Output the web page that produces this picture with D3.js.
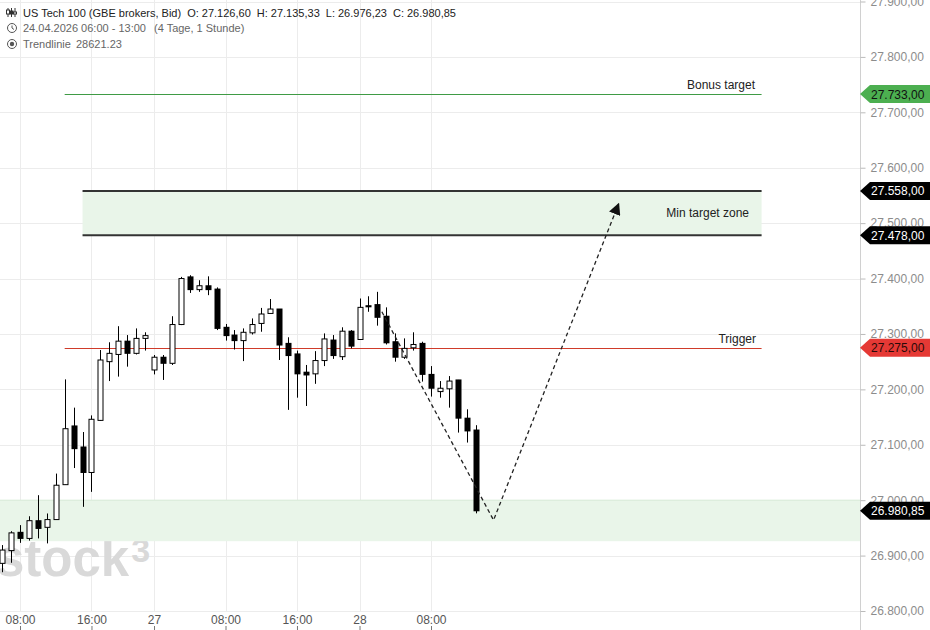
<!DOCTYPE html>
<head>
  <meta charset="utf-8">
  <script src="https://d3js.org/d3.v7.min.js"></script>
  <style>
  body,html {background:white; margin:0; font-family:"Liberation Sans", Arial, sans-serif;}
  svg {display:block;}
  .grid line {stroke:#ececec; stroke-width:1;}
  .yaxis text {fill:#8c8c8c; font-size:12px;}
  .xaxis text {fill:#555; font-size:12px;}
  .hdr {font-size:11px;}
</style>
</head>

<body>
<svg id="chart"></svg>

<script>

  // hourly candles (index 0 = 06:00 first day)
  const open  = [26886,26909,26942,26931,26963,26951,26965,27028,27134,27096,27050,27144,27250,27263,27287,27265,27292,27235,27258,27247,
                 27317,27403,27380,27387,27381,27312,27298,27288,27302,27319,27337,27345,27283,27264,27231,27228,27252,27289,27259,27305,
                 27290,27351,27353,27332,27286,27258,27275,27283,27227,27196,27201,27217,27148,27126.6];
  const high  = [26919,26944,26955,26971,27009,26976,27048,27218,27167,27123,27153,27271,27285,27314,27298,27310,27303,27262,27262,27332,
                 27403,27406,27397,27404,27384,27318,27307,27310,27328,27347,27363,27345,27294,27270,27244,27269,27301,27298,27312,27307,
                 27364,27368,27376,27348,27301,27292,27303,27286,27242,27215,27224,27217,27164,27135.33];
  const low   = [26870,26887,26923,26927,26931,26922,26965,27028,27058,26988,27015,27143,27215,27223,27241,27263,27270,27227,27217,27244,
                 27316,27374,27376,27370,27307,27288,27272,27251,27299,27304,27337,27253,27163,27185,27170,27210,27242,27255,27253,27274,
                 27290,27340,27315,27281,27250,27255,27270,27214,27187,27185,27167,27122,27104,26976.23];
  const close = [26910,26941,26931,26963,26949,26965,27027,27129,27093,27050,27146,27253,27265,27287,27265,27292,27297,27258,27247,27317,
                 27400,27380,27387,27380,27310,27297,27288,27303,27317,27336,27345,27280,27261,27228,27226,27252,27291,27261,27305,27278,
                 27348,27349,27330,27284,27258,27274,27281,27227,27202,27202,27215,27148,27125,26980.85];

  const xTickIdx = [2, 10, 17, 25, 33, 40, 48];
  const xTickLabels = ["08:00", "16:00", "27", "08:00", "16:00", "28", "08:00"];

  // drawn levels
  const levelNames  = ["Bonus target", "Min target zone", "Trigger"];
  const bonusTarget = 27733;
  const zoneTop = 27558, zoneBottom = 27478;
  const trigger = 27275;
  const supportZone = [26926, 27000];
  const lastClose = 26980.85;
  // projected path: [candle index, price]
  const pathPoints = [[42.5, 27340], [55, 26964], [69, 27535]];

  const W = 930, H = 630, axisX = 860;

  const svg = d3.select("#chart").attr("width", W).attr("height", H);

  const x = d3.scaleLinear().domain([2, 48]).range([20, 431]);
  const y = d3.scaleLinear().domain([26800, 27900]).range([611, 1.5]);

  const de = d3.formatLocale({decimal: ",", thousands: ".", grouping: [3], currency: ["", ""]});
  const fmt = de.format(",.2f");
  const yTicks = d3.range(26800, 27901, 100);

  // grid
  const grid = svg.append("g").attr("class", "grid");
  grid.selectAll(".h").data(yTicks).enter().append("line")
    .attr("x1", 0).attr("x2", axisX)
    .attr("y1", d => Math.round(y(d)) + 0.5).attr("y2", d => Math.round(y(d)) + 0.5);
  grid.selectAll(".v").data(xTickIdx).enter().append("line")
    .attr("x1", d => Math.round(x(d)) + 0.5).attr("x2", d => Math.round(x(d)) + 0.5)
    .attr("y1", 0).attr("y2", 612);

  // watermark
  const wm = svg.append("text").attr("x", -4).attr("y", 576)
    .style("font-size", "51px").style("font-weight", "bold").style("fill", "#d9d9d9");
  wm.append("tspan").text("stock");
  wm.append("tspan").attr("dx", 2).attr("dy", -14).style("font-size", "34px").text("3");

  // support zone
  svg.append("rect")
    .attr("x", 0).attr("width", axisX)
    .attr("y", y(supportZone[1])).attr("height", y(supportZone[0]) - y(supportZone[1]))
    .attr("fill", "#e9f5e9");
  svg.append("line").attr("x1", 0).attr("x2", axisX)
    .attr("y1", y(supportZone[1])).attr("y2", y(supportZone[1]))
    .attr("stroke", "#d8ebd8");

  // min target zone
  svg.append("rect")
    .attr("x", x(9)).attr("width", x(85) - x(9))
    .attr("y", y(zoneTop)).attr("height", y(zoneBottom) - y(zoneTop))
    .attr("fill", "#e9f5e9");
  [zoneTop, zoneBottom].forEach(v => {
    svg.append("line").attr("x1", x(9)).attr("x2", x(85))
      .attr("y1", y(v)).attr("y2", y(v))
      .attr("stroke", "#333").attr("stroke-width", 2);
  });

  // bonus / trigger lines
  svg.append("line").attr("x1", x(7)).attr("x2", x(85))
    .attr("y1", Math.round(y(bonusTarget)) + 0.5).attr("y2", Math.round(y(bonusTarget)) + 0.5)
    .attr("stroke", "#3f9b45").attr("stroke-width", 1);
  svg.append("line").attr("x1", x(7)).attr("x2", x(85))
    .attr("y1", Math.round(y(trigger)) + 0.5).attr("y2", Math.round(y(trigger)) + 0.5)
    .attr("stroke", "#cf3b2a").attr("stroke-width", 1);

  const lbl = (t, xx, yy) => svg.append("text").attr("x", xx).attr("y", yy)
    .attr("text-anchor", "end").style("font-size", "12px").style("fill", "#222").text(t);
  lbl(levelNames[0], 755, y(bonusTarget) - 5);
  lbl(levelNames[1], 749, (y(zoneTop) + y(zoneBottom)) / 2 + 4);
  lbl(levelNames[2], 756, y(trigger) - 5);

  // candles
  const candles = svg.append("g");
  open.forEach((o, i) => {
    const c = close[i];
    const cx = Math.round(x(i)) + 0.5;
    const up = c >= o;
    candles.append("line")
      .attr("x1", cx).attr("x2", cx)
      .attr("y1", y(high[i])).attr("y2", y(low[i]))
      .attr("stroke", "#000").attr("stroke-width", 1);
    const top = y(Math.max(o, c)), bot = y(Math.min(o, c));
    if (up) {
      candles.append("rect")
        .attr("x", cx - 2.5).attr("width", 5)
        .attr("y", top).attr("height", Math.max(bot - top, 1))
        .attr("fill", "#fff").attr("stroke", "#000").attr("stroke-width", 1);
    } else {
      candles.append("rect")
        .attr("x", cx - 3).attr("width", 6)
        .attr("y", top - 0.5).attr("height", Math.max(bot - top, 1) + 1)
        .attr("fill", "#000");
    }
  });

  // projected path with arrow
  svg.append("defs").append("marker")
    .attr("id", "arr").attr("viewBox", "0 0 10 10")
    .attr("refX", 9).attr("refY", 5)
    .attr("markerWidth", 12).attr("markerHeight", 12)
    .attr("markerUnits", "userSpaceOnUse")
    .attr("orient", "auto")
    .append("path").attr("d", "M0,0 L10,5 L0,10 Z").attr("fill", "#111");
  svg.append("path")
    .datum(pathPoints)
    .attr("d", d3.line().x(d => x(d[0])).y(d => y(d[1])))
    .attr("fill", "none").attr("stroke", "#222").attr("stroke-width", 1.3)
    .attr("stroke-dasharray", "4,3")
    .attr("marker-end", "url(#arr)");

  // right axis
  const yAxis = svg.append("g").attr("class", "yaxis")
    .attr("transform", `translate(${axisX + 0.5},0)`)
    .call(d3.axisRight(y).tickValues(yTicks).tickFormat(fmt).tickSize(5).tickPadding(5));
  yAxis.select(".domain").attr("stroke", "#d0d0d0").attr("d", `M0,0V${H}`);
  yAxis.selectAll(".tick line").attr("stroke", "#bbb");
  yAxis.selectAll("text").style("font-family", "Liberation Sans, Arial, sans-serif");

  // price tags
  const tags = [
    [bonusTarget, "#4caf50", "#111"],
    [zoneTop, "#000", "#fff"],
    [zoneBottom, "#000", "#fff"],
    [trigger, "#e53935", "#2a0a08"],
    [lastClose, "#000", "#fff"]
  ];
  tags.forEach(([v, bg, fg]) => {
    const yy = y(v);
    svg.append("path")
      .attr("d", `M${axisX},${yy} L${axisX + 10},${yy - 9} L${W},${yy - 9} L${W},${yy + 9} L${axisX + 10},${yy + 9} Z`)
      .attr("fill", bg);
    svg.append("text").attr("x", axisX + 11).attr("y", yy + 4.5)
      .style("font-size", "12px").style("fill", fg).text(fmt(v));
  });

  // x axis (labels with tick marks below)
  const xAxis = svg.append("g").attr("class", "xaxis")
    .attr("transform", `translate(0,${H})`)
    .call(d3.axisTop(x).tickValues(xTickIdx).tickFormat((d, i) => xTickLabels[i]).tickSize(4).tickPadding(2));
  xAxis.select(".domain").remove();
  xAxis.selectAll(".tick line").attr("stroke", "#777");
  xAxis.selectAll("text").style("font-family", "Liberation Sans, Arial, sans-serif");

  // header
  const hdr = svg.append("g").attr("class", "hdr");
  const ht = (t, xx, yy, col) => hdr.append("text").attr("x", xx).attr("y", yy).style("fill", col).text(t);
  // first line: place pieces one after another so they never collide
  let cursor = 23;
  ["US Tech 100 (GBE brokers, Bid)", "O: 27.126,60", "H: 27.135,33", "L: 26.976,23", "C: 26.980,85"].forEach(t => {
    const node = ht(t, cursor, 17, "#222");
    cursor += node.node().getComputedTextLength() + 6;
  });
  ht("24.04.2026 06:00 - 13:00", 23, 32, "#666");
  ht("(4 Tage, 1 Stunde)", 154, 32, "#666");
  ht("Trendlinie", 23, 48, "#666");
  ht("28621.23", 76, 48, "#666");

  // header icons
  const ic = hdr.append("g").attr("stroke", "#333").attr("stroke-width", 1).attr("fill", "none");
  [8, 11.5, 15].forEach((xx, k) => {
    ic.append("line").attr("x1", xx).attr("x2", xx).attr("y1", 8).attr("y2", 17);
    ic.append("rect").attr("x", xx - 1.5).attr("y", 10 + k).attr("width", 3).attr("height", 4 - k)
      .attr("fill", k == 1 ? "#333" : "#fff");
  });
  ic.append("circle").attr("cx", 12).attr("cy", 28).attr("r", 4.5).attr("stroke", "#555");
  ic.append("path").attr("d", "M12,25.5 V28 L14,29.5").attr("stroke", "#555");
  ic.append("circle").attr("cx", 12).attr("cy", 44).attr("r", 4.5).attr("stroke", "#555");
  hdr.append("circle").attr("cx", 12).attr("cy", 44).attr("r", 2.2).attr("fill", "#555");

</script>
</body>
